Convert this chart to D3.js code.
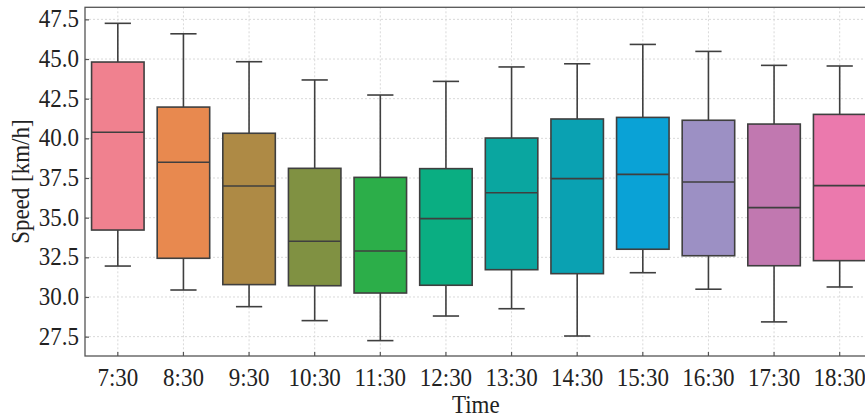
<!DOCTYPE html>
<html><head><meta charset="utf-8">
<script src="https://cdn.jsdelivr.net/npm/d3@7"></script>
<style>html,body{margin:0;padding:0;background:#fff;} svg{display:block;}</style>
</head><body>
<svg id="c" width="865" height="420"></svg>
<script>
const categories = ["7:30","8:30","9:30","10:30","11:30","12:30","13:30","14:30","15:30","16:30","17:30","18:30"];
const whiskerLow  = [31.95,30.44,29.39,28.51,27.25,28.80,29.26,27.54,31.53,30.49,28.43,30.63];
const q1          = [34.22,32.44,30.78,30.71,30.25,30.74,31.72,31.47,33.01,32.60,31.97,32.29];
const median      = [40.38,38.49,37.00,33.51,32.90,34.94,36.57,37.46,37.73,37.25,35.63,37.02];
const q3          = [44.81,41.97,40.32,38.11,37.54,38.09,40.02,41.22,41.32,41.14,40.90,41.51];
const whiskerHigh = [47.25,46.59,44.83,43.68,42.73,43.59,44.50,44.70,45.92,45.48,44.60,44.56];
const colors = ["#f0818f","#e8894f","#ae8a45","#809142","#2cae49","#0aae82","#0aa6a0","#0aa1b2","#0aa2d6","#9c90c4","#c178b0","#eb79ad"];
const yTicks = [27.5,30.0,32.5,35.0,37.5,40.0,42.5,45.0,47.5];

const svg = d3.select("#c");
const L = 85, R = 872.5, T = 7.3, B = 356;
const x = d3.scaleBand().domain(categories).range([L, R]).padding(0);
const y = d3.scaleLinear().domain([26.28, 48.26]).range([B, T]);
const font = "'Liberation Serif', 'Times New Roman', serif";
const bw = x.bandwidth();
const SY = 1.1;

// grid
const g = svg.append("g");
g.selectAll(".gy").data(yTicks).join("line")
  .attr("x1", L).attr("x2", R).attr("y1", d => y(d)).attr("y2", d => y(d))
  .attr("stroke", "#d9d9d9").attr("stroke-width", 1).attr("stroke-dasharray", "2,2");
g.selectAll(".gx").data(categories).join("line")
  .attr("x1", d => x(d) + bw/2).attr("x2", d => x(d) + bw/2).attr("y1", T).attr("y2", B)
  .attr("stroke", "#d9d9d9").attr("stroke-width", 1).attr("stroke-dasharray", "2,2");

// boxes
const data = categories.map((c, i) => ({c, lo: whiskerLow[i], q1: q1[i], med: median[i], q3: q3[i], hi: whiskerHigh[i], col: colors[i]}));
const stroke = "#3f3f3f", sw = 1.6;
const bx = svg.append("g").selectAll("g").data(data).join("g");
const cx = d => x(d.c) + bw/2;
const boxW = bw * 0.8, capW = bw * 0.4;
bx.append("line").attr("x1", cx).attr("x2", cx).attr("y1", d => y(d.hi)).attr("y2", d => y(d.q3)).attr("stroke", stroke).attr("stroke-width", sw);
bx.append("line").attr("x1", cx).attr("x2", cx).attr("y1", d => y(d.q1)).attr("y2", d => y(d.lo)).attr("stroke", stroke).attr("stroke-width", sw);
bx.append("line").attr("x1", d => cx(d) - capW/2).attr("x2", d => cx(d) + capW/2).attr("y1", d => y(d.hi)).attr("y2", d => y(d.hi)).attr("stroke", stroke).attr("stroke-width", sw);
bx.append("line").attr("x1", d => cx(d) - capW/2).attr("x2", d => cx(d) + capW/2).attr("y1", d => y(d.lo)).attr("y2", d => y(d.lo)).attr("stroke", stroke).attr("stroke-width", sw);
bx.append("rect").attr("x", d => cx(d) - boxW/2).attr("width", boxW)
  .attr("y", d => y(d.q3)).attr("height", d => y(d.q1) - y(d.q3))
  .attr("fill", d => d.col).attr("stroke", stroke).attr("stroke-width", sw);
bx.append("line").attr("x1", d => cx(d) - boxW/2).attr("x2", d => cx(d) + boxW/2).attr("y1", d => y(d.med)).attr("y2", d => y(d.med)).attr("stroke", stroke).attr("stroke-width", sw);

// axes
const axY = svg.append("g").attr("transform", `translate(${L},0)`)
  .call(d3.axisLeft(y).tickValues(yTicks).tickFormat(d3.format(".1f")).tickSizeInner(-4).tickSizeOuter(0));
const axX = svg.append("g").attr("transform", `translate(0,${B})`)
  .call(d3.axisBottom(x).tickSizeInner(-4).tickSizeOuter(0));
[axY, axX].forEach(a => {
  a.select(".domain").remove();
  a.selectAll("line").attr("stroke", "#555").attr("stroke-width", 1.2);
  a.selectAll("text").attr("font-family", font).attr("font-size", 23).attr("fill", "#222")
    .attr("x", null).attr("y", null).attr("dy", null);
});
axY.selectAll("text").attr("transform", `translate(-6,7.5) scale(1,${SY})`);
axX.selectAll("text").attr("transform", `translate(0,30) scale(1,${SY})`);
// spines
svg.append("rect").attr("x", L).attr("y", T).attr("width", R - L).attr("height", B - T)
  .attr("fill", "none").attr("stroke", "#555").attr("stroke-width", 1.3);

// labels
svg.append("text").attr("transform", `translate(${(L + R) / 2 - 3},413) scale(1,${SY})`).attr("text-anchor", "middle")
  .attr("font-family", font).attr("font-size", 23).attr("fill", "#222").text("Time");
svg.append("text").attr("transform", `translate(29,${(T + B) / 2}) rotate(-90) scale(1,${SY})`).attr("text-anchor", "middle")
  .attr("font-family", font).attr("font-size", 23).attr("fill", "#222").text("Speed [km/h]");
</script>
</body></html>
